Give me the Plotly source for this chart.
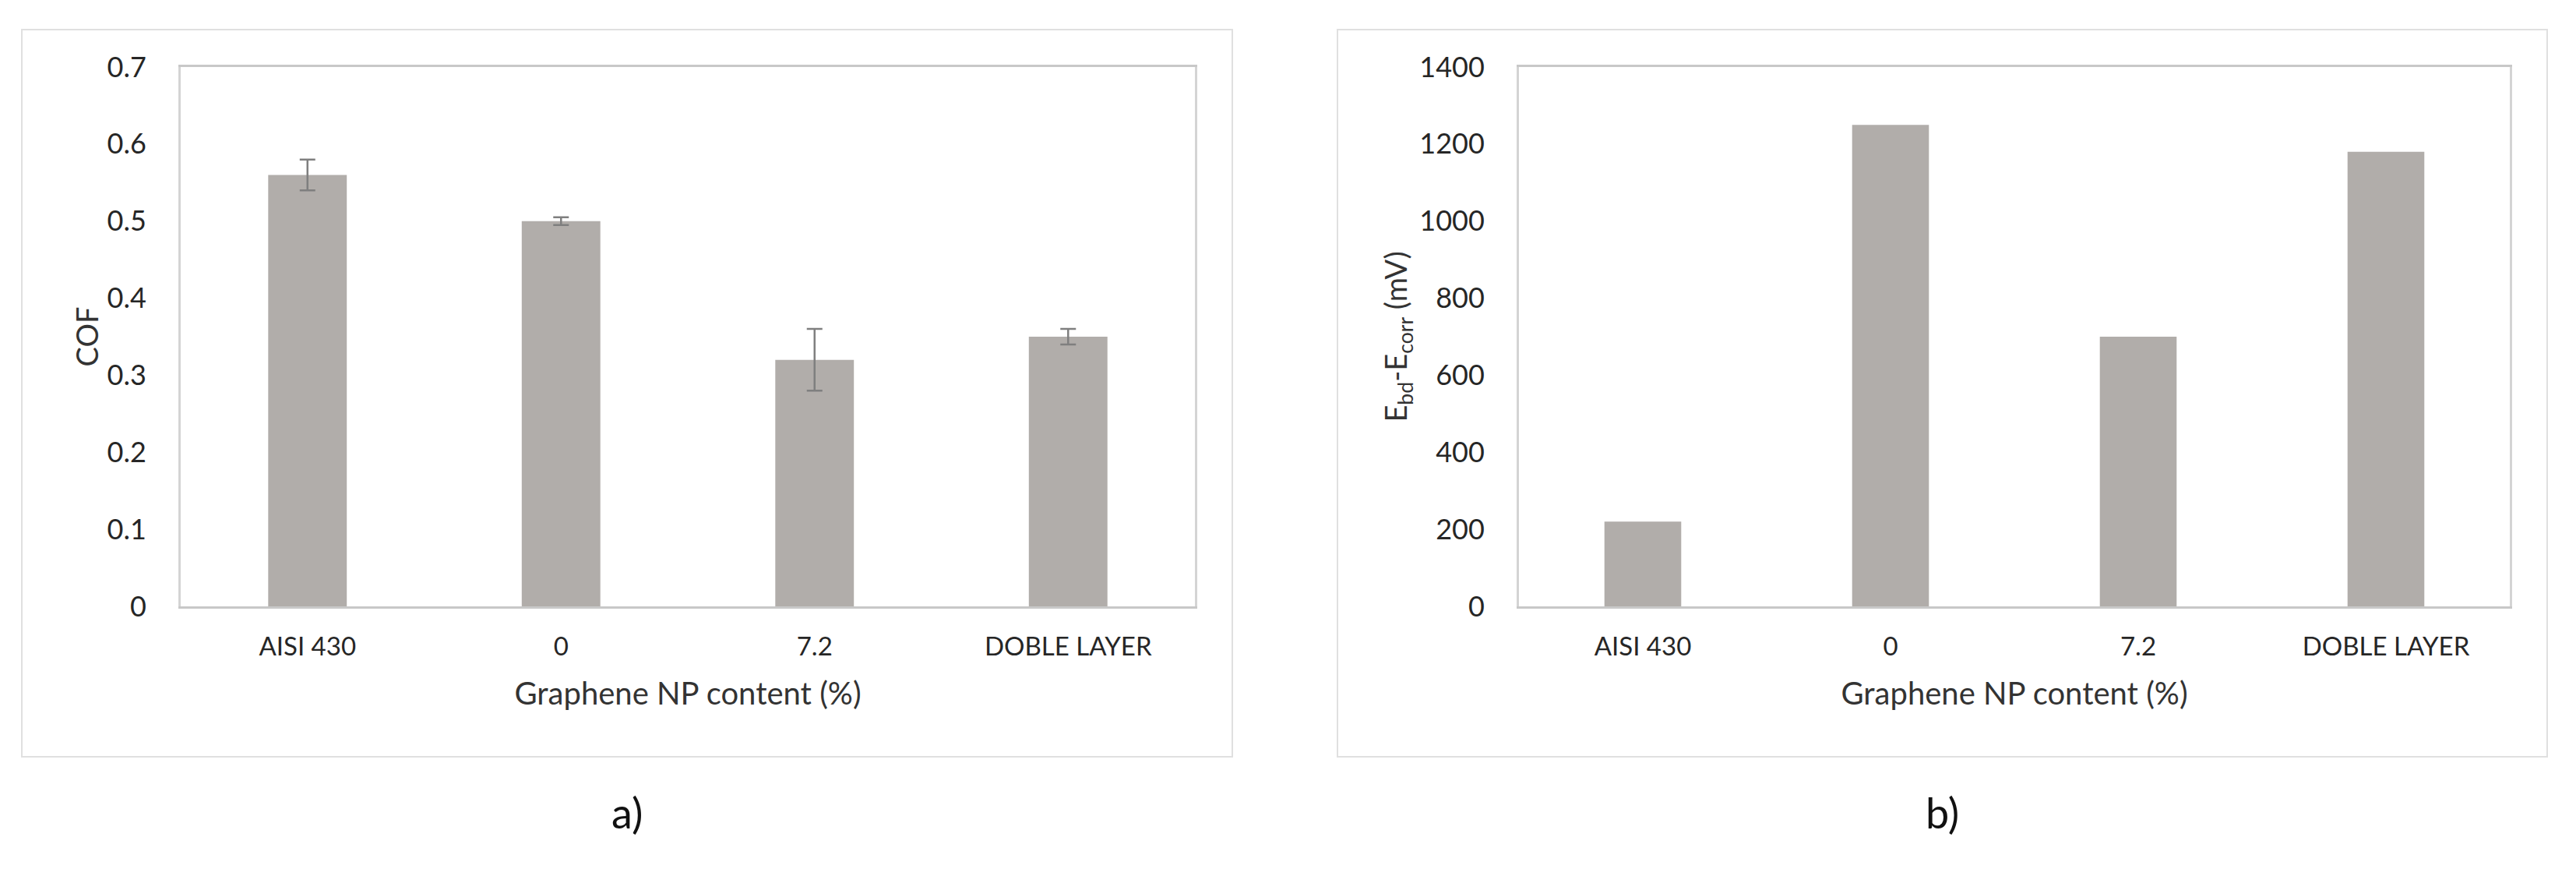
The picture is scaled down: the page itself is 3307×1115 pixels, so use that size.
import plotly.graph_objects as go

# Data
CATEGORIES = ["AISI 430", "0", "7.2", "DOBLE LAYER"]
COF = [0.56, 0.50, 0.32, 0.35]
COF_ERR = [0.02, 0.005, 0.04, 0.01]
E_DIFF = [220, 1250, 700, 1180]

BAR_COLOR = "#b1adaa"
FONT = "Lato, 'Open Sans', sans-serif"
TEXT = "#262626"

fig = go.Figure()

fig.add_trace(
    go.Bar(
        x=CATEGORIES,
        y=COF,
        width=0.31,
        marker=dict(color=BAR_COLOR, line=dict(width=0)),
        error_y=dict(type="data", array=COF_ERR, color="#7f7f7f", thickness=2.5, width=10),
        xaxis="x",
        yaxis="y",
        showlegend=False,
    )
)
fig.add_trace(
    go.Bar(
        x=CATEGORIES,
        y=E_DIFF,
        width=0.31,
        marker=dict(color=BAR_COLOR, line=dict(width=0)),
        xaxis="x2",
        yaxis="y2",
        showlegend=False,
    )
)

W, H = 3307, 1115
PAGE_OFFSET = 8  # default body margin of the html page


def px_x(v):
    return (v - PAGE_OFFSET) / W


def px_y(v):
    return 1 - (v - PAGE_OFFSET) / H


xaxis_common = dict(
    type="category",
    automargin=False,
    showline=True,
    mirror=True,
    linecolor="#c8c8c8",
    linewidth=3,
    showgrid=False,
    zeroline=False,
    ticks="",
    ticklabelstandoff=20,
    tickfont=dict(family=FONT, size=33, color=TEXT),
    title=dict(
        text="Graphene NP content (%)",
        font=dict(family=FONT, size=40, color="#333333"),
        standoff=30,
    ),
)
yaxis_common = dict(
    automargin=False,
    showline=True,
    mirror=True,
    linecolor="#d4d4d4",
    linewidth=3,
    showgrid=False,
    zeroline=False,
    ticks="",
    ticklabelstandoff=34,
    tickfont=dict(family=FONT, size=36, color=TEXT),
    domain=[px_y(778), px_y(86)],
)

fig.update_layout(
    width=W,
    height=H,
    margin=dict(l=0, r=0, t=0, b=0),
    paper_bgcolor="white",
    plot_bgcolor="white",
    xaxis=dict(xaxis_common, domain=[px_x(232), px_x(1534)], anchor="y"),
    yaxis=dict(
        yaxis_common,
        range=[0, 0.7],
        dtick=0.1,
        anchor="x",
        title=dict(text="COF", font=dict(family=FONT, size=38, color="#333333"), standoff=0),
    ),
    xaxis2=dict(xaxis_common, domain=[px_x(1950), px_x(3222)], anchor="y2"),
    yaxis2=dict(
        yaxis_common,
        range=[0, 1400],
        dtick=200,
        anchor="x2",
        title=dict(
            text="E<sub>bd</sub>-E<sub>corr</sub> (mV)",
            font=dict(family=FONT, size=38, color="#333333"),
            standoff=4,
        ),
    ),
)

# light outer frames around each panel
for x0, x1 in [(28, 1582), (1717, 3270)]:
    fig.add_shape(
        type="rect",
        xref="paper",
        yref="paper",
        x0=px_x(x0),
        x1=px_x(x1),
        y0=px_y(971),
        y1=px_y(38),
        line=dict(color="#e0e0e0", width=2),
        fillcolor="rgba(0,0,0,0)",
        layer="below",
    )

# panel letters
for label, xc in [("a)", 805), ("b)", 2493)]:
    fig.add_annotation(
        text=label,
        xref="paper",
        yref="paper",
        x=px_x(xc),
        y=px_y(1042),
        showarrow=False,
        font=dict(family=FONT, size=54, color="#111111"),
        xanchor="center",
        yanchor="middle",
    )

fig.write_html("out.html")
